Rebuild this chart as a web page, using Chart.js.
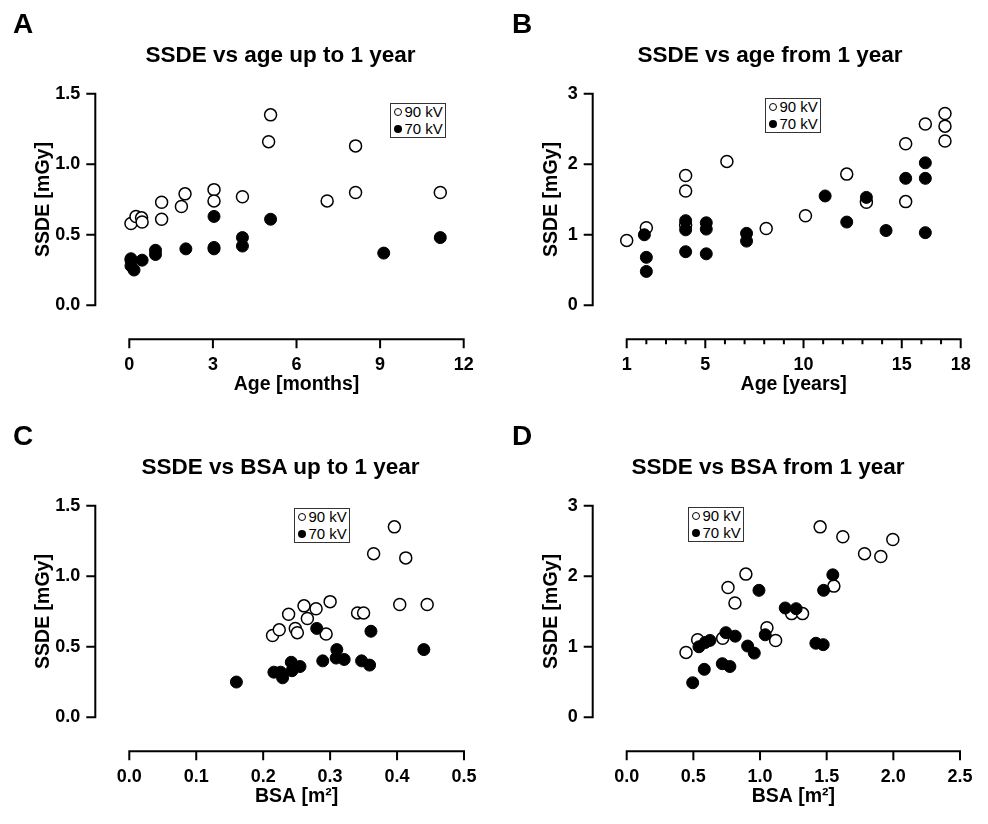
<!DOCTYPE html>
<html>
<head>
<meta charset="utf-8">
<title>SSDE vs age and BSA</title>
<script src="https://cdn.jsdelivr.net/npm/chart.js@4.4.1/dist/chart.umd.min.js"></script>
<style>
  html, body { margin: 0; padding: 0; background: #fff; }
  #fig { position: relative; width: 988px; height: 824px; overflow: hidden;
         font-family: "Liberation Sans", Arial, sans-serif; color: #000; }
  .panel { position: absolute; width: 494px; height: 412px; }
  .letter { position: absolute; font-weight: bold; font-size: 28px; line-height: 28px; }
  .title { position: absolute; width: 400px; text-align: center; font-weight: bold;
           font-size: 22.5px; line-height: 22.5px; white-space: nowrap; }
  .legend { position: absolute; border: 1px solid #333; background: #fff;
            font-size: 15px; line-height: 16.5px; padding: 0 2px 0 0; }
  .legend div { display: flex; align-items: center; white-space: nowrap; }
  .mk { display: inline-block; width: 8px; height: 8px; border-radius: 50%;
        margin: 0 2.5px 0 3px; box-sizing: border-box; }
  .mk.open { border: 1px solid #000; background: #fff; }
  .mk.filled { background: #000; }
</style>
</head>
<body>
<div id="fig">
  <canvas class="panel" id="chartA" width="494" height="412" style="left:0;top:0"></canvas>
  <canvas class="panel" id="chartB" width="494" height="412" style="left:494px;top:0"></canvas>
  <canvas class="panel" id="chartC" width="494" height="412" style="left:0;top:412px"></canvas>
  <canvas class="panel" id="chartD" width="494" height="412" style="left:494px;top:412px"></canvas>

  <div class="letter" style="left:13px;top:9.6px">A</div>
  <div class="letter" style="left:512px;top:9.6px">B</div>
  <div class="letter" style="left:13px;top:421.6px">C</div>
  <div class="letter" style="left:512px;top:421.6px">D</div>

  <div class="title" style="left:80.5px;top:43.5px">SSDE vs age up to 1 year</div>
  <div class="title" style="left:570px;top:43.5px">SSDE vs age from 1 year</div>
  <div class="title" style="left:80.5px;top:455.5px">SSDE vs BSA up to 1 year</div>
  <div class="title" style="left:568px;top:455.5px">SSDE vs BSA from 1 year</div>
</div>

<script>
// ---- data ----
const seriesNames = ['90 kV', '70 kV'];

// A: age in months (< 1 year)
const ageMonths90 = [0.06, 0.24, 0.44, 0.46, 1.16, 1.16, 1.87, 2.0, 3.04, 3.04, 4.06, 5.0, 5.07, 7.1, 8.12, 8.12, 11.16];
const ssdeAgeInf90 = [0.58, 0.63, 0.62, 0.59, 0.73, 0.61, 0.70, 0.79, 0.82, 0.74, 0.77, 1.16, 1.35, 0.74, 1.13, 0.80, 0.80];
const ageMonths70 = [0.06, 0.06, 0.06, 0.17, 0.46, 0.94, 0.94, 2.03, 3.04, 3.04, 3.04, 4.06, 4.06, 5.07, 9.13, 11.16];
const ssdeAgeInf70 = [0.33, 0.32, 0.28, 0.25, 0.32, 0.39, 0.36, 0.40, 0.63, 0.41, 0.40, 0.48, 0.42, 0.61, 0.37, 0.48];

// B: age in years (>= 1 year)
const ageYears90 = [1.0, 2.0, 4.0, 4.0, 4.0, 6.1, 8.1, 10.1, 12.2, 13.2, 15.2, 15.2, 16.2, 17.2, 17.2, 17.2];
const ssdeAgeChild90 = [0.92, 1.10, 1.84, 1.62, 1.14, 2.04, 1.09, 1.27, 1.86, 1.46, 2.29, 1.47, 2.57, 2.72, 2.54, 2.33];
const ageYears70 = [1.9, 2.0, 2.0, 4.0, 4.0, 4.0, 5.05, 5.05, 5.05, 7.1, 7.1, 11.1, 12.2, 13.2, 14.2, 15.2, 16.2, 16.2, 16.2];
const ssdeAgeChild70 = [1.00, 0.68, 0.48, 1.20, 1.07, 0.76, 1.17, 1.08, 0.73, 1.02, 0.91, 1.55, 1.18, 1.53, 1.06, 1.80, 2.02, 1.80, 1.03];

// C: BSA (< 1 year)
const bsaInf90 = [0.214, 0.224, 0.238, 0.248, 0.251, 0.261, 0.266, 0.279, 0.294, 0.300, 0.341, 0.350, 0.365, 0.396, 0.404, 0.413, 0.445];
const ssdeBsaInf90 = [0.58, 0.62, 0.73, 0.63, 0.60, 0.79, 0.70, 0.77, 0.59, 0.82, 0.74, 0.74, 1.16, 1.35, 0.80, 1.13, 0.80];
const bsaInf70 = [0.160, 0.216, 0.226, 0.229, 0.242, 0.243, 0.255, 0.280, 0.289, 0.310, 0.309, 0.321, 0.347, 0.359, 0.361, 0.440];
const ssdeBsaInf70 = [0.25, 0.32, 0.32, 0.28, 0.39, 0.33, 0.36, 0.63, 0.40, 0.48, 0.42, 0.41, 0.40, 0.37, 0.61, 0.48];

// D: BSA (>= 1 year)
const bsaChild90 = [0.445, 0.532, 0.72, 0.76, 0.812, 0.894, 1.052, 1.117, 1.237, 1.319, 1.451, 1.554, 1.621, 1.784, 1.906, 1.996];
const ssdeBsaChild90 = [0.92, 1.10, 1.12, 1.84, 1.62, 2.03, 1.27, 1.09, 1.47, 1.47, 2.70, 1.86, 2.56, 2.32, 2.28, 2.52];
const bsaChild70 = [0.495, 0.542, 0.582, 0.589, 0.624, 0.717, 0.744, 0.774, 0.814, 0.907, 0.957, 0.992, 1.039, 1.189, 1.271, 1.419, 1.474, 1.477, 1.546];
const ssdeBsaChild70 = [0.49, 1.00, 0.68, 1.06, 1.09, 0.76, 1.20, 0.72, 1.15, 1.01, 0.91, 1.80, 1.17, 1.55, 1.54, 1.05, 1.03, 1.80, 2.02];

// ticks
const ticksMonths = [0, 3, 6, 9, 12];
const ticksYears = [1, 5, 10, 15, 18];
const minorYears = [2, 3, 4, 6, 7, 8, 9, 11, 12, 13, 14, 16, 17];
const ticksBsaInf = [0, 0.1, 0.2, 0.3, 0.4, 0.5];
const ticksBsaChild = [0, 0.5, 1, 1.5, 2, 2.5];
const ticksSsdeInf = [0, 0.5, 1, 1.5];
const ticksSsdeChild = [0, 1, 2, 3];

// ---- drawing ----
Chart.defaults.font.family = "'Liberation Sans', Arial, sans-serif";
Chart.defaults.color = '#000';

const AXIS_GAP = 34;
const MAJOR_TICK = 9, MINOR_TICK = 5;
const LABEL_GAP = 49;   // distance from data area to tick labels
const tickFont = { size: 18, weight: 'bold', lineHeight: 1.2 };
const axisFont = { size: 19.5, weight: 'bold', lineHeight: 1.2 };

// invisible grid ticks only push the labels out; real axes are drawn below
const hiddenGrid = { display: true, drawOnChartArea: false, drawTicks: true,
                     tickLength: LABEL_GAP, color: 'rgba(0,0,0,0)' };

// Prism-style detached axes, drawn from the chart's own scales
const prismAxes = {
  id: 'prismAxes',
  afterDraw(chart, args, opts) {
    const { ctx, chartArea: a, scales: { x, y } } = chart;
    const ax = a.left - AXIS_GAP, ay = a.bottom + AXIS_GAP;
    ctx.save();
    ctx.strokeStyle = '#000';
    ctx.lineWidth = 2;
    ctx.beginPath();
    ctx.moveTo(ax, y.getPixelForValue(y.max) - 1);
    ctx.lineTo(ax, y.getPixelForValue(y.min) + 1);
    y.ticks.forEach(t => {
      const p = y.getPixelForValue(t.value);
      ctx.moveTo(ax, p); ctx.lineTo(ax - MAJOR_TICK, p);
    });
    ctx.moveTo(x.getPixelForValue(x.min) - 1, ay);
    ctx.lineTo(x.getPixelForValue(x.max) + 1, ay);
    x.ticks.forEach(t => {
      const p = x.getPixelForValue(t.value);
      ctx.moveTo(p, ay); ctx.lineTo(p, ay + MAJOR_TICK);
    });
    (opts.minorX || []).forEach(v => {
      const p = x.getPixelForValue(v);
      ctx.moveTo(p, ay); ctx.lineTo(p, ay + MINOR_TICK);
    });
    ctx.stroke();
    ctx.restore();
  }
};

function pts(xs, ys) { return xs.map((v, i) => ({ x: v, y: ys[i] })); }

function makePanel(id, o) {
  new Chart(document.getElementById(id), {
    type: 'scatter',
    data: {
      datasets: [
        { label: seriesNames[1], data: pts(o.x70, o.y70), order: 0, clip: false,
          backgroundColor: '#000', borderColor: '#000', pointRadius: 6, pointBorderWidth: 1 },
        { label: seriesNames[0], data: pts(o.x90, o.y90), order: 1, clip: false,
          backgroundColor: '#fff', borderColor: '#000', pointRadius: 6, pointBorderWidth: 1.5 }
      ]
    },
    options: {
      responsive: false,
      animation: false,
      events: [],
      layout: { padding: { left: 0, top: o.top, right: 494 - o.right, bottom: 0 } },
      plugins: {
        legend: { display: false },
        tooltip: { enabled: false },
        prismAxes: { minorX: o.minorX }
      },
      scales: {
        x: {
          type: 'linear', min: o.xTicks[0], max: o.xTicks[o.xTicks.length - 1],
          afterBuildTicks: s => { s.ticks = o.xTicks.map(v => ({ value: v })); },
          afterFit: s => { s.height = 412 - o.bottom; },
          grid: hiddenGrid,
          border: { display: false },
          ticks: { padding: 0, font: tickFont, color: '#000', maxRotation: 0, autoSkip: false,
                   callback: v => o.xFmt(v) },
          title: { display: true, text: o.xTitle, font: axisFont, color: '#000',
                   padding: { top: 0, bottom: 15.3 } }
        },
        y: {
          type: 'linear', min: o.yTicks[0], max: o.yTicks[o.yTicks.length - 1],
          afterBuildTicks: s => { s.ticks = o.yTicks.map(v => ({ value: v })); },
          afterFit: s => { s.width = o.left; },
          grid: hiddenGrid,
          border: { display: false },
          ticks: { padding: 0, font: tickFont, color: '#000', autoSkip: false,
                   callback: v => o.yFmt(v) },
          title: { display: true, text: 'SSDE [mGy]', font: axisFont, color: '#000',
                   padding: { top: o.yTitleX - 11.7, bottom: 0 } }
        }
      }
    },
    plugins: [prismAxes]
  });

  // boxed legend, like the original
  const fig = document.getElementById('fig');
  const box = document.createElement('div');
  box.className = 'legend';
  box.style.left = o.legend[0] + 'px';
  box.style.top = o.legend[1] + 'px';
  box.innerHTML =
    '<div><span class="mk open"></span>' + seriesNames[0] + '</div>' +
    '<div><span class="mk filled"></span>' + seriesNames[1] + '</div>';
  fig.appendChild(box);
}

const fmt1 = v => v.toFixed(1);
const fmt0 = v => String(v);

makePanel('chartA', {
  x90: ageMonths90, y90: ssdeAgeInf90, x70: ageMonths70, y70: ssdeAgeInf70,
  xTicks: ticksMonths, yTicks: ticksSsdeInf, xFmt: fmt0, yFmt: fmt1,
  xTitle: 'Age [months]', left: 129.3, right: 463.7, top: 93.7, bottom: 305.3,
  yTitleX: 44, legend: [390, 103]
});
makePanel('chartB', {
  x90: ageYears90, y90: ssdeAgeChild90, x70: ageYears70, y70: ssdeAgeChild70,
  xTicks: ticksYears, yTicks: ticksSsdeChild, xFmt: fmt0, yFmt: fmt0, minorX: minorYears,
  xTitle: 'Age [years]', left: 132.7, right: 466.7, top: 93.7, bottom: 305.3,
  yTitleX: 57.7, legend: [765, 98]
});
makePanel('chartC', {
  x90: bsaInf90, y90: ssdeBsaInf90, x70: bsaInf70, y70: ssdeBsaInf70,
  xTicks: ticksBsaInf, yTicks: ticksSsdeInf, xFmt: fmt1, yFmt: fmt1,
  xTitle: 'BSA [m²]', left: 129.3, right: 464, top: 93.7, bottom: 305.3,
  yTitleX: 44, legend: [294, 508]
});
makePanel('chartD', {
  x90: bsaChild90, y90: ssdeBsaChild90, x70: bsaChild70, y70: ssdeBsaChild70,
  xTicks: ticksBsaChild, yTicks: ticksSsdeChild, xFmt: fmt1, yFmt: fmt0,
  xTitle: 'BSA [m²]', left: 132.7, right: 466, top: 93.7, bottom: 305.3,
  yTitleX: 57.7, legend: [688, 507]
});
</script>
</body>
</html>
